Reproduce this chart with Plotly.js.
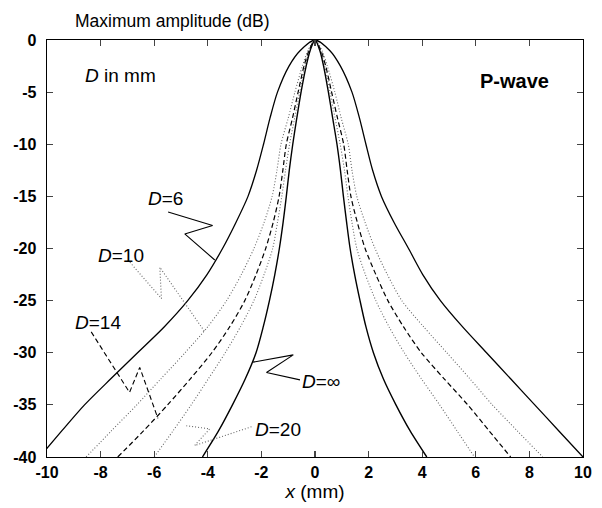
<!DOCTYPE html>
<html>
<head>
<meta charset="utf-8">
<script src="https://cdn.plot.ly/plotly-3.0.1.min.js"></script>
<style>html,body{margin:0;padding:0;background:#fff;}#chart{width:602px;height:508px;}</style>
</head>
<body>
<div id="chart"></div>
<script>
// dB levels at which curve positions were read (top to bottom)
const dbLevels = [0, -1, -2.5, -5, -7.5, -10, -12.5, -15, -17.5, -20, -22.5, -25, -27.5, -30, -32.5, -35, -37.5, -40];

// x (mm) positions of each curve, left and right flanks, at dbLevels
const d6Left   = [0, -0.55, -0.97, -1.4, -1.68, -1.92, -2.18, -2.5, -2.95, -3.45, -4.03, -4.75, -5.62, -6.62, -7.62, -8.6, -9.45, -10.28];
const d6Right  = [0, 0.55, 0.95, 1.38, 1.66, 1.9, 2.15, 2.48, 2.95, 3.49, 4.02, 4.68, 5.5, 6.4, 7.3, 8.2, 9.1, 10.0];
const d10Left  = [0, -0.26, -0.47, -0.75, -1.0, -1.27, -1.42, -1.6, -1.9, -2.28, -2.75, -3.3, -4.0, -4.85, -5.75, -6.65, -7.6, -8.54];
const d10Right = [0, 0.26, 0.46, 0.74, 0.98, 1.24, 1.38, 1.56, 1.87, 2.24, 2.7, 3.24, 4.05, 4.92, 5.78, 6.62, 7.55, 8.5];
const d14Left  = [0, -0.22, -0.41, -0.63, -0.84, -1.07, -1.2, -1.34, -1.56, -1.84, -2.2, -2.62, -3.18, -3.85, -4.65, -5.5, -6.4, -7.36];
const d14Right = [0, 0.22, 0.4, 0.62, 0.84, 1.07, 1.2, 1.34, 1.58, 1.87, 2.27, 2.72, 3.3, 3.97, 4.82, 5.7, 6.5, 7.3];
const d20Left  = [0, -0.2, -0.37, -0.57, -0.76, -0.95, -1.1, -1.24, -1.4, -1.58, -1.9, -2.28, -2.78, -3.35, -3.98, -4.62, -5.3, -6.0];
const d20Right = [0, 0.2, 0.36, 0.56, 0.75, 0.94, 1.1, 1.23, 1.38, 1.56, 1.88, 2.27, 2.76, 3.33, 3.97, 4.65, 5.3, 5.95];
const dInfLeft = [0, -0.18, -0.33, -0.52, -0.68, -0.83, -0.96, -1.07, -1.19, -1.33, -1.5, -1.7, -1.93, -2.2, -2.6, -3.08, -3.6, -4.2];
const dInfRight= [0, 0.18, 0.32, 0.5, 0.66, 0.82, 0.95, 1.06, 1.18, 1.31, 1.48, 1.68, 1.9, 2.18, 2.55, 3.02, 3.55, 4.17];

const xTicks = [-10, -8, -6, -4, -2, 0, 2, 4, 6, 8, 10];
const xTickText = ['-10', '-8', '-6', '-4', '-2', '0', '2', '4', '6', '8', '10'];
const yTicks = [0, -5, -10, -15, -20, -25, -30, -35, -40];
const yTickText = ['0', '-5', '-10', '-15', '-20', '-25', '-30', '-35', '-40'];

// curve labels and their leader lines (zig-zag pointers)
const labelNames = ['<i>D</i>=6', '<i>D</i>=10', '<i>D</i>=14', '<i>D</i>=20', '<i>D</i>=\u221E'];
const labelX = [-6.29, -8.16, -9.03, -2.31, -0.56];
const labelY = [-15.2, -20.7, -27.1, -37.4, -32.8];
const ptr6X  = [-5.48, -3.82, -4.86, -3.74];
const ptr6Y  = [-16.5, -17.8, -18.6, -21.1];
const ptr10X = [-6.98, -5.73, -5.79, -4.11];
const ptr10Y = [-21.1, -24.8, -21.8, -28.0];
const ptr14X = [-8.35, -6.92, -6.54, -5.86];
const ptr14Y = [-28.0, -33.8, -31.4, -36.3];
const ptr20X = [-2.37, -4.49, -3.93, -4.8];
const ptr20Y = [-37.1, -38.9, -37.3, -37.0];
const ptrInfX= [-0.56, -1.81, -0.81, -2.31];
const ptrInfY= [-32.6, -31.9, -30.2, -30.9];

const styles = {
  d6:  {color: '#000', width: 1.3, dash: 'solid'},
  d10: {color: '#666', width: 1.1, dash: '1px,2px'},
  d14: {color: '#000', width: 1.2, dash: '5px,3px'},
  d20: {color: '#666', width: 1.1, dash: '1px,2px'},
  dInf:{color: '#000', width: 1.4, dash: 'solid'}
};

function curve(left, right, st) {
  const xs = left.slice().reverse().concat(right.slice(1));
  const ys = dbLevels.slice().reverse().concat(dbLevels.slice(1));
  return {x: xs, y: ys, type: 'scatter', mode: 'lines', hoverinfo: 'skip',
          line: {color: st.color, width: st.width, dash: st.dash, shape: 'spline', smoothing: 0.8}};
}
function pointer(xs, ys, st) {
  return {x: xs, y: ys, type: 'scatter', mode: 'lines', hoverinfo: 'skip', cliponaxis: false,
          line: {color: st.color, width: Math.min(st.width, 1.1), dash: st.dash}};
}

const traces = [
  curve(d6Left, d6Right, styles.d6),
  curve(d10Left, d10Right, styles.d10),
  curve(d14Left, d14Right, styles.d14),
  curve(d20Left, d20Right, styles.d20),
  curve(dInfLeft, dInfRight, styles.dInf),
  pointer(ptr6X, ptr6Y, styles.d6),
  pointer(ptr10X, ptr10Y, styles.d10),
  pointer(ptr14X, ptr14Y, styles.d14),
  pointer(ptr20X, ptr20Y, styles.d20),
  pointer(ptrInfX, ptrInfY, styles.dInf)
];

const font = 'Liberation Sans, Arial, sans-serif';
const annotations = labelNames.map((t, i) => ({
  text: t, x: labelX[i], y: labelY[i], xref: 'x', yref: 'y',
  xanchor: 'left', yanchor: 'middle', showarrow: false,
  font: {family: font, size: 19, color: '#000'}
}));
annotations.push({text: '<i>D</i> in mm', x: -8.67, y: -3.4, xref: 'x', yref: 'y',
  xanchor: 'left', yanchor: 'middle', showarrow: false, font: {family: font, size: 19, color: '#000'}});
annotations.push({text: '<b>P-wave</b>', x: 6.1, y: -3.9, xref: 'x', yref: 'y',
  xanchor: 'left', yanchor: 'middle', showarrow: false, font: {family: font, size: 20, color: '#000'}});
annotations.push({text: 'Maximum amplitude (dB)', x: -10, xshift: 26, y: 1.045, xref: 'x', yref: 'paper',
  xanchor: 'left', yanchor: 'middle', showarrow: false, font: {family: font, size: 17.5, color: '#000'}});

const layout = {
  width: 602, height: 508,
  margin: {l: 47, r: 19, t: 40, b: 51},
  paper_bgcolor: '#fff', plot_bgcolor: '#fff',
  showlegend: false,
  font: {family: font, color: '#000'},
  xaxis: {
    range: [-10, 10], tickvals: xTicks, ticktext: xTickText, ticks: 'inside', ticklen: 6, tickwidth: 1.2,
    showline: true, linecolor: '#000', linewidth: 1.4, mirror: 'ticks',
    showgrid: false, zeroline: false,
    tickfont: {family: font, size: 16, weight: 'bold', color: '#000'},
    title: {text: '<i>x</i> (mm)', font: {family: font, size: 19, color: '#000'}, standoff: 4}
  },
  yaxis: {
    range: [-40, 0], tickvals: yTicks, ticktext: yTickText, ticks: 'inside', ticklen: 6, tickwidth: 1.2,
    showline: true, linecolor: '#000', linewidth: 1.4, mirror: 'ticks',
    showgrid: false, zeroline: false,
    tickfont: {family: font, size: 16, weight: 'bold', color: '#000'},
    ticklabelstandoff: 6
  },
  annotations: annotations
};

Plotly.newPlot('chart', traces, layout, {staticPlot: true, displayModeBar: false});
</script>
</body>
</html>
